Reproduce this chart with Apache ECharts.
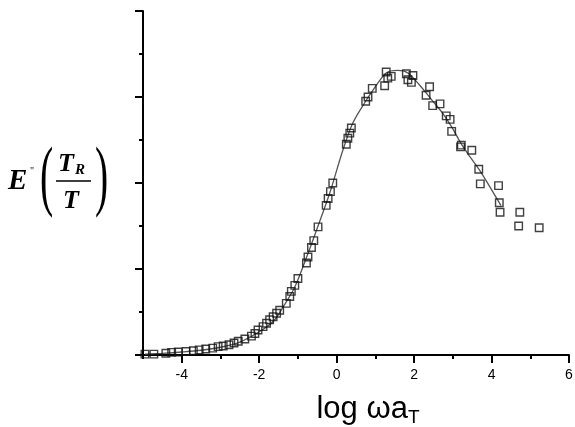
<!DOCTYPE html>
<html>
<head>
<meta charset="utf-8">
<script src="https://cdn.jsdelivr.net/npm/echarts@6/dist/echarts.min.js"></script>
<style>
html,body{margin:0;padding:0;background:#fff;}
#chart{width:575px;height:427px;}
</style>
</head>
<body>
<div id="chart"></div>
<script>
// measured points: log(omega aT) and E''(TR/T)
var dataX = [-4.95,-4.72,-4.41,-4.26,-4.09,-3.89,-3.70,-3.55,-3.38,-3.20,-3.06,-2.93,-2.78,-2.65,-2.54,-2.37,-2.20,-2.11,-2.03,-1.90,-1.81,-1.73,-1.64,-1.55,-1.47,-1.30,-1.21,-1.17,-1.08,-1.00,-0.78,-0.74,-0.65,-0.59,-0.48,-0.27,-0.22,-0.16,-0.10,0.25,0.29,0.34,0.38,0.75,0.81,0.92,1.28,1.41,1.24,1.32,1.80,1.97,1.84,1.93,2.40,2.31,2.48,2.67,2.83,2.93,2.97,3.20,3.22,3.49,3.67,3.71,4.18,4.20,4.22,4.73,4.70,5.23];
var dataY = [0.01,0.01,0.02,0.03,0.035,0.04,0.05,0.06,0.07,0.08,0.097,0.105,0.12,0.14,0.16,0.186,0.22,0.25,0.29,0.33,0.37,0.41,0.445,0.485,0.52,0.60,0.68,0.74,0.81,0.89,1.07,1.14,1.25,1.33,1.49,1.74,1.82,1.90,2.00,2.45,2.52,2.58,2.64,2.95,3.00,3.10,3.29,3.24,3.13,3.22,3.27,3.25,3.20,3.17,3.12,3.02,2.90,2.92,2.78,2.74,2.60,2.42,2.44,2.38,2.16,1.99,1.97,1.77,1.66,1.66,1.50,1.48];
// fitted curve
var fitX = [-4.95,-4.5,-4.0,-3.5,-3.0,-2.5,-2.0,-1.64,-1.38,-1.08,-0.74,-0.52,-0.18,0.16,0.42,0.72,0.94,1.28,1.58,1.84,2.14,2.45,2.74,3.0,3.21,3.45,3.69,3.95,4.24];
var fitY = [0.01,0.02,0.035,0.055,0.09,0.15,0.27,0.39,0.56,0.79,1.18,1.45,1.88,2.38,2.70,2.93,3.08,3.28,3.31,3.28,3.14,2.97,2.81,2.63,2.46,2.30,2.15,1.96,1.74];
// axis ticks
var xMajor = [-4,-2,0,2,4,6];
var xMinor = [-5,-3,-1,1,3,5];

var scatterData = dataX.map(function(x,i){return [x,dataY[i]];});
var fitData = fitX.map(function(x,i){return [x,fitY[i]];});

var chart = echarts.init(document.getElementById('chart'));
chart.setOption({
  animation:false,
  backgroundColor:'#fff',
  grid:{left:143,right:6,top:11,bottom:72,containLabel:false,outerBoundsMode:'none'},
  xAxis:[{
    type:'value',min:-5,max:6,
    axisLine:{show:true,onZero:false,lineStyle:{color:'#000',width:2}},
    axisTick:{show:true,customValues:xMajor,length:8,lineStyle:{color:'#000',width:2}},
    axisLabel:{customValues:xMajor,color:'#000',fontSize:14,fontFamily:'Liberation Sans, Arial',margin:13},
    splitLine:{show:false},
    name:'{a|log ωa}{b|T}',nameLocation:'middle',nameGap:36,
    nameTextStyle:{padding:[0,0,0,24],rich:{a:{fontSize:31,fontFamily:'Liberation Sans, Arial',color:'#000'},b:{fontSize:19,fontFamily:'Liberation Sans, Arial',color:'#000',verticalAlign:'bottom',padding:[17,0,0,0]}}}
  },{
    type:'value',min:-5,max:6,position:'bottom',
    axisLine:{show:false},
    axisTick:{show:true,customValues:xMinor,length:4,lineStyle:{color:'#000',width:2}},
    axisLabel:{show:false},splitLine:{show:false}
  }],
  yAxis:{
    type:'value',min:0,max:4,interval:1,
    axisLine:{show:true,onZero:false,lineStyle:{color:'#000',width:2}},
    axisTick:{show:true,length:8,lineStyle:{color:'#000',width:2}},
    minorTick:{show:true,splitNumber:2,length:4,lineStyle:{color:'#000',width:2}},
    axisLabel:{show:false},
    splitLine:{show:false}
  },
  series:[{
    type:'line',data:fitData,xAxisIndex:0,smooth:0.3,showSymbol:false,symbol:'none',
    lineStyle:{color:'#555',width:1.3},z:2
  },{
    type:'scatter',data:scatterData,xAxisIndex:0,symbol:'rect',symbolSize:7.5,
    itemStyle:{color:'rgba(255,255,255,0)',borderColor:'#111',borderWidth:1.4},z:3
  }],
  graphic:[
    {type:'text',left:8,top:167,style:{text:'E',font:'italic bold 29px "Liberation Serif"',fill:'#000'}},
    {type:'text',left:30,top:166,style:{text:'"',font:'10px "Liberation Serif"',fill:'#000'}},
    {type:'text',left:40,top:141,scaleX:0.9,scaleY:1.8,style:{text:'(',font:'44px "Liberation Serif"',fill:'#000'}},
    {type:'text',left:58,top:151,style:{text:'T',font:'italic bold 26px "Liberation Serif"',fill:'#000'}},
    {type:'text',left:75,top:163,style:{text:'R',font:'italic bold 15px "Liberation Serif"',fill:'#000'}},
    {type:'line',shape:{x1:56,y1:181,x2:91,y2:181},style:{stroke:'#000',lineWidth:1.3}},
    {type:'text',left:63,top:188,style:{text:'T',font:'italic bold 26px "Liberation Serif"',fill:'#000'}},
    {type:'text',left:95,top:141,scaleX:0.9,scaleY:1.8,style:{text:')',font:'44px "Liberation Serif"',fill:'#000'}}
  ]
});
</script>
</body>
</html>
